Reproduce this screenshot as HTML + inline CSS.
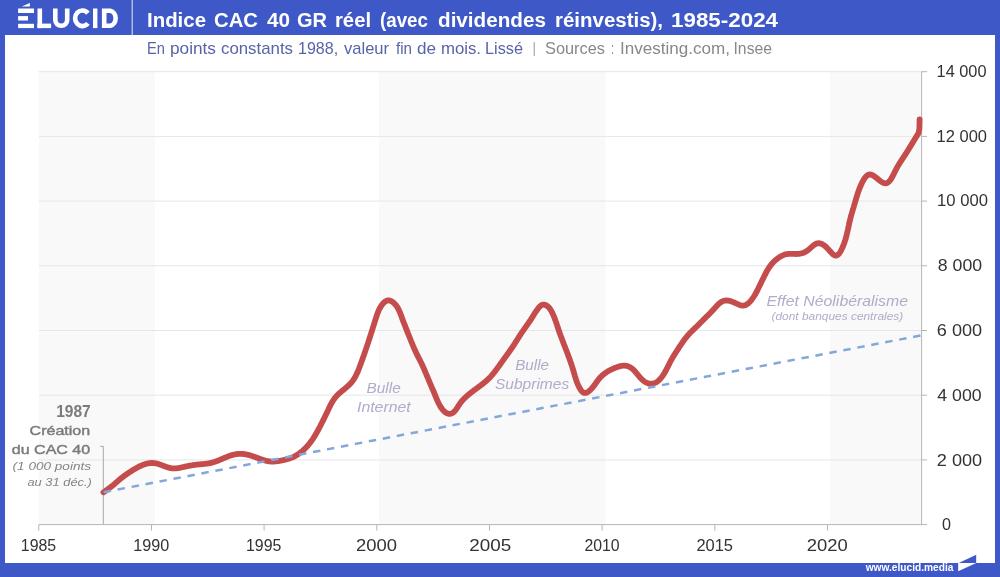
<!DOCTYPE html>
<html><head><meta charset="utf-8">
<style>
html,body{margin:0;padding:0;background:#fff;}
svg{display:block;will-change:transform;}
text{font-family:"Liberation Sans",sans-serif;}
.ax{font-size:16.4px;fill:#333;}
</style></head><body>
<svg width="1000" height="577" viewBox="0 0 1000 577">
<rect x="0" y="0" width="1000" height="577" fill="#3e59c7"/>
<rect x="5" y="35" width="990" height="528" fill="#fff"/>
<polygon points="958.2,563.3 976.2,554.8 976.2,563.3" fill="#3e59c7"/>
<polygon points="958.2,563 976.2,563 958.2,571.2" fill="#fff"/>
<line x1="132.2" y1="0" x2="132.2" y2="35" stroke="#e6e9f7" stroke-width="1"/>
<!-- logo -->
<g fill="#fff">
<rect x="18.1" y="8.5" width="15.9" height="4.5"/>
<rect x="18.1" y="16.1" width="9.9" height="4.4"/>
<rect x="18.1" y="23.8" width="15.9" height="4.3"/>
<polygon points="21.8,6.5 29.9,3.1 29.9,6.5"/>
<rect x="37.5" y="8.5" width="4.6" height="19.6"/>
<rect x="37.5" y="23.6" width="13.6" height="4.5"/>
<rect x="93.0" y="8.5" width="4.4" height="19.6"/>
</g>
<g fill="none" stroke="#fff" stroke-width="4.6">
<path d="M55.3,8.5 V19.8 A5.95,5.95 0 0 0 67.2,19.8 V8.5"/>
<path d="M87.9,13.2 A7.3,7.8 0 1 0 87.9,23.4"/>
<path d="M104.2,10.8 H110.3 A6.35,7.6 0 0 1 110.3,25.8 H104.2 Z"/>
</g>
<text x="20.80" y="551.2" font-size="15.6"  fill="#333" textLength="35.40" lengthAdjust="spacingAndGlyphs">1985</text>
<text x="133.20" y="551.2" font-size="15.6"  fill="#333" textLength="36.00" lengthAdjust="spacingAndGlyphs">1990</text>
<text x="246.00" y="551.2" font-size="15.6"  fill="#333" textLength="35.43" lengthAdjust="spacingAndGlyphs">1995</text>
<text x="356.00" y="551.2" font-size="15.6"  fill="#333" textLength="41.01" lengthAdjust="spacingAndGlyphs">2000</text>
<text x="469.20" y="551.2" font-size="15.6"  fill="#333" textLength="42.01" lengthAdjust="spacingAndGlyphs">2005</text>
<text x="584.40" y="551.2" font-size="15.6"  fill="#333" textLength="35.23" lengthAdjust="spacingAndGlyphs">2010</text>
<text x="696.40" y="551.2" font-size="15.6"  fill="#333" textLength="36.60" lengthAdjust="spacingAndGlyphs">2015</text>
<text x="806.80" y="551.2" font-size="15.6"  fill="#333" textLength="41.01" lengthAdjust="spacingAndGlyphs">2020</text>
<text x="936.60" y="76.9" font-size="15.9"  fill="#333" textLength="49.93" lengthAdjust="spacingAndGlyphs">14 000</text>
<text x="936.60" y="141.6" font-size="15.9"  fill="#333" textLength="50.41" lengthAdjust="spacingAndGlyphs">12 000</text>
<text x="937.10" y="206.4" font-size="15.9"  fill="#333" textLength="50.91" lengthAdjust="spacingAndGlyphs">10 000</text>
<text x="937.80" y="271.1" font-size="15.9"  fill="#333" textLength="44.30" lengthAdjust="spacingAndGlyphs">8 000</text>
<text x="936.80" y="335.8" font-size="15.9"  fill="#333" textLength="45.36" lengthAdjust="spacingAndGlyphs">6 000</text>
<text x="937.30" y="400.9" font-size="15.9"  fill="#333" textLength="44.33" lengthAdjust="spacingAndGlyphs">4 000</text>
<text x="936.80" y="465.6" font-size="15.9"  fill="#333" textLength="45.36" lengthAdjust="spacingAndGlyphs">2 000</text>
<text x="942.00" y="530.3" font-size="15.9"  fill="#333" textLength="9.00" lengthAdjust="spacingAndGlyphs">0</text>
<text x="147.00" y="26.6" font-size="20.9" font-weight="bold" fill="#fff" textLength="59.01" lengthAdjust="spacingAndGlyphs">Indice</text>
<text x="214.00" y="26.6" font-size="20.9" font-weight="bold" fill="#fff" textLength="44.00" lengthAdjust="spacingAndGlyphs">CAC</text>
<text x="267.00" y="26.6" font-size="20.9" font-weight="bold" fill="#fff" textLength="23.04" lengthAdjust="spacingAndGlyphs">40</text>
<text x="297.00" y="26.6" font-size="20.9" font-weight="bold" fill="#fff" textLength="30.04" lengthAdjust="spacingAndGlyphs">GR</text>
<text x="335.00" y="26.6" font-size="20.9" font-weight="bold" fill="#fff" textLength="36.00" lengthAdjust="spacingAndGlyphs">réel</text>
<text x="380.00" y="26.6" font-size="20.9" font-weight="bold" fill="#fff" textLength="48.00" lengthAdjust="spacingAndGlyphs">(avec</text>
<text x="438.00" y="26.6" font-size="20.9" font-weight="bold" fill="#fff" textLength="108.00" lengthAdjust="spacingAndGlyphs">dividendes</text>
<text x="555.00" y="26.6" font-size="20.9" font-weight="bold" fill="#fff" textLength="108.00" lengthAdjust="spacingAndGlyphs">réinvestis),</text>
<text x="671.00" y="26.6" font-size="20.9" font-weight="bold" fill="#fff" textLength="107.02" lengthAdjust="spacingAndGlyphs">1985-2024</text>
<text x="147.00" y="54" font-size="15.7"  fill="#5864a8" textLength="18.00" lengthAdjust="spacingAndGlyphs">En</text>
<text x="170.00" y="54" font-size="15.7"  fill="#5864a8" textLength="46.00" lengthAdjust="spacingAndGlyphs">points</text>
<text x="221.00" y="54" font-size="15.7"  fill="#5864a8" textLength="72.00" lengthAdjust="spacingAndGlyphs">constants</text>
<text x="298.00" y="54" font-size="15.7"  fill="#5864a8" textLength="40.10" lengthAdjust="spacingAndGlyphs">1988,</text>
<text x="344.00" y="54" font-size="15.7"  fill="#5864a8" textLength="45.08" lengthAdjust="spacingAndGlyphs">valeur</text>
<text x="396.00" y="54" font-size="15.7"  fill="#5864a8" textLength="16.06" lengthAdjust="spacingAndGlyphs">fin</text>
<text x="417.00" y="54" font-size="15.7"  fill="#5864a8" textLength="19.00" lengthAdjust="spacingAndGlyphs">de</text>
<text x="441.00" y="54" font-size="15.7"  fill="#5864a8" textLength="40.03" lengthAdjust="spacingAndGlyphs">mois.</text>
<text x="485.00" y="54" font-size="15.7"  fill="#5864a8" textLength="38.00" lengthAdjust="spacingAndGlyphs">Lissé</text>
<text x="545.00" y="54" font-size="15.7"  fill="#888" textLength="60.00" lengthAdjust="spacingAndGlyphs">Sources</text>
<text x="611.00" y="54" font-size="15.7"  fill="#888" textLength="3.00" lengthAdjust="spacingAndGlyphs">:</text>
<text x="620.00" y="54" font-size="15.7"  fill="#888" textLength="110.01" lengthAdjust="spacingAndGlyphs">Investing.com,</text>
<text x="733.50" y="54" font-size="15.7"  fill="#888" textLength="38.52" lengthAdjust="spacingAndGlyphs">Insee</text>
<rect x="533.6" y="42" width="1.3" height="14" fill="#b0b0b0"/>

<!-- chart -->
<rect x="38.8" y="71.6" width="116.2" height="453" fill="#f9f9f9"/>
<rect x="379.1" y="71.6" width="226.4" height="453" fill="#f9f9f9"/>
<rect x="830.1" y="71.6" width="91.5" height="453" fill="#f9f9f9"/>
<line x1="38.8" y1="459.9" x2="921.6" y2="459.9" stroke="#e6e6e6" stroke-width="1"/><line x1="921.6" y1="459.9" x2="927" y2="459.9" stroke="#b5b5b5" stroke-width="1"/><line x1="38.8" y1="395.2" x2="921.6" y2="395.2" stroke="#e6e6e6" stroke-width="1"/><line x1="921.6" y1="395.2" x2="927" y2="395.2" stroke="#b5b5b5" stroke-width="1"/><line x1="38.8" y1="330.5" x2="921.6" y2="330.5" stroke="#e6e6e6" stroke-width="1"/><line x1="921.6" y1="330.5" x2="927" y2="330.5" stroke="#b5b5b5" stroke-width="1"/><line x1="38.8" y1="265.8" x2="921.6" y2="265.8" stroke="#e6e6e6" stroke-width="1"/><line x1="921.6" y1="265.8" x2="927" y2="265.8" stroke="#b5b5b5" stroke-width="1"/><line x1="38.8" y1="201.1" x2="921.6" y2="201.1" stroke="#e6e6e6" stroke-width="1"/><line x1="921.6" y1="201.1" x2="927" y2="201.1" stroke="#b5b5b5" stroke-width="1"/><line x1="38.8" y1="136.4" x2="921.6" y2="136.4" stroke="#e6e6e6" stroke-width="1"/><line x1="921.6" y1="136.4" x2="927" y2="136.4" stroke="#b5b5b5" stroke-width="1"/><line x1="38.8" y1="71.7" x2="921.6" y2="71.7" stroke="#e6e6e6" stroke-width="1"/><line x1="921.6" y1="71.7" x2="927" y2="71.7" stroke="#b5b5b5" stroke-width="1"/>
<line x1="921.6" y1="71.6" x2="921.6" y2="524.6" stroke="#b5b5b5" stroke-width="1"/>
<line x1="38.8" y1="524.6" x2="927" y2="524.6" stroke="#b5b5b5" stroke-width="1"/>
<line x1="38.8" y1="524.6" x2="38.8" y2="530.5" stroke="#b5b5b5" stroke-width="1"/><line x1="151.5" y1="524.6" x2="151.5" y2="530.5" stroke="#b5b5b5" stroke-width="1"/><line x1="264.1" y1="524.6" x2="264.1" y2="530.5" stroke="#b5b5b5" stroke-width="1"/><line x1="376.8" y1="524.6" x2="376.8" y2="530.5" stroke="#b5b5b5" stroke-width="1"/><line x1="489.5" y1="524.6" x2="489.5" y2="530.5" stroke="#b5b5b5" stroke-width="1"/><line x1="602.1" y1="524.6" x2="602.1" y2="530.5" stroke="#b5b5b5" stroke-width="1"/><line x1="714.8" y1="524.6" x2="714.8" y2="530.5" stroke="#b5b5b5" stroke-width="1"/><line x1="827.5" y1="524.6" x2="827.5" y2="530.5" stroke="#b5b5b5" stroke-width="1"/>
<polyline points="100.2,446.4 103.3,446.4 103.3,524.6" fill="none" stroke="#a8a8a8" stroke-width="1"/>
<path d="M103.51,492.31L103.95,492.00L104.38,491.69L104.82,491.39L105.25,491.08L105.69,490.77L106.12,490.45L106.56,490.14L106.99,489.83L107.42,489.52L107.86,489.20L108.29,488.89L108.72,488.57L109.14,488.25L109.57,487.93L110.00,487.61L110.42,487.28L110.84,486.95L111.26,486.63L111.68,486.29L112.10,485.96L112.51,485.62L112.93,485.29L113.34,484.94L113.74,484.60L114.15,484.25L114.56,483.91L114.96,483.56L115.37,483.21L115.77,482.86L116.17,482.51L116.58,482.16L116.98,481.81L117.38,481.45L117.78,481.10L118.19,480.75L118.59,480.41L119.00,480.06L119.40,479.71L119.81,479.37L120.22,479.03L120.64,478.69L121.05,478.35L121.47,478.02L121.88,477.69L122.31,477.36L122.73,477.03L123.15,476.71L123.58,476.39L124.01,476.07L124.44,475.75L124.87,475.44L125.30,475.13L125.74,474.82L126.18,474.51L126.61,474.20L127.05,473.90L127.50,473.60L127.94,473.30L128.38,473.00L128.83,472.70L129.28,472.41L129.72,472.12L130.17,471.83L130.62,471.54L131.08,471.25L131.53,470.96L131.98,470.68L132.44,470.39L132.89,470.11L133.35,469.83L133.81,469.55L134.27,469.28L134.73,469.01L135.19,468.74L135.66,468.47L136.12,468.21L136.59,467.95L137.06,467.69L137.53,467.44L138.01,467.19L138.49,466.94L138.97,466.70L139.45,466.46L139.93,466.23L140.42,466.00L140.91,465.77L141.40,465.56L141.89,465.34L142.39,465.13L142.89,464.93L143.39,464.73L143.90,464.55L144.41,464.37L144.92,464.19L145.43,464.03L145.94,463.88L146.46,463.73L146.98,463.60L147.49,463.48L148.01,463.37L148.54,463.27L149.06,463.19L149.58,463.12L150.11,463.06L150.64,463.02L151.16,462.99L151.69,462.98L152.22,462.99L152.75,463.01L153.28,463.04L153.80,463.09L154.33,463.15L154.86,463.22L155.38,463.30L155.91,463.40L156.43,463.51L156.95,463.63L157.47,463.76L157.99,463.90L158.50,464.05L159.01,464.21L159.52,464.38L160.03,464.55L160.54,464.73L161.04,464.91L161.55,465.10L162.05,465.29L162.55,465.49L163.05,465.68L163.56,465.88L164.06,466.07L164.56,466.27L165.06,466.46L165.57,466.65L166.07,466.83L166.58,467.01L167.09,467.18L167.60,467.35L168.11,467.51L168.62,467.65L169.13,467.79L169.65,467.92L170.17,468.04L170.68,468.14L171.20,468.24L171.72,468.31L172.24,468.38L172.77,468.43L173.29,468.46L173.81,468.47L174.34,468.47L174.86,468.46L175.39,468.43L175.92,468.39L176.44,468.34L176.97,468.28L177.50,468.21L178.03,468.13L178.55,468.04L179.08,467.95L179.61,467.85L180.14,467.74L180.67,467.63L181.20,467.52L181.73,467.40L182.25,467.28L182.78,467.16L183.31,467.04L183.84,466.93L184.36,466.81L184.89,466.69L185.41,466.57L185.94,466.46L186.46,466.35L186.99,466.24L187.51,466.13L188.04,466.02L188.56,465.91L189.09,465.81L189.61,465.71L190.14,465.61L190.66,465.52L191.19,465.42L191.71,465.33L192.24,465.25L192.77,465.16L193.29,465.08L193.82,465.01L194.35,464.93L194.88,464.86L195.41,464.80L195.94,464.73L196.47,464.67L197.00,464.61L197.53,464.56L198.07,464.50L198.60,464.45L199.13,464.40L199.66,464.35L200.20,464.31L200.73,464.26L201.26,464.21L201.80,464.17L202.33,464.12L202.86,464.07L203.40,464.02L203.93,463.97L204.46,463.92L204.99,463.86L205.53,463.80L206.06,463.74L206.59,463.67L207.11,463.60L207.64,463.52L208.17,463.44L208.69,463.36L209.22,463.26L209.74,463.16L210.26,463.06L210.78,462.94L211.30,462.82L211.81,462.69L212.32,462.55L212.84,462.41L213.35,462.26L213.86,462.10L214.37,461.94L214.87,461.78L215.38,461.60L215.88,461.43L216.39,461.25L216.89,461.06L217.39,460.87L217.89,460.68L218.39,460.48L218.88,460.28L219.38,460.08L219.88,459.87L220.37,459.66L220.87,459.45L221.36,459.24L221.85,459.03L222.35,458.82L222.84,458.60L223.33,458.39L223.82,458.17L224.31,457.96L224.81,457.75L225.30,457.54L225.79,457.33L226.29,457.13L226.78,456.92L227.28,456.72L227.78,456.53L228.28,456.34L228.78,456.15L229.28,455.97L229.78,455.79L230.29,455.62L230.80,455.45L231.31,455.29L231.82,455.14L232.34,455.00L232.86,454.86L233.38,454.73L233.90,454.61L234.42,454.50L234.94,454.39L235.47,454.30L236.00,454.21L236.53,454.13L237.05,454.06L237.58,454.00L238.12,453.95L238.65,453.91L239.18,453.88L239.71,453.86L240.24,453.85L240.78,453.85L241.31,453.86L241.84,453.89L242.37,453.92L242.90,453.96L243.43,454.01L243.96,454.07L244.49,454.14L245.02,454.22L245.55,454.31L246.08,454.40L246.60,454.50L247.13,454.61L247.65,454.73L248.17,454.86L248.69,454.99L249.21,455.12L249.72,455.27L250.24,455.42L250.75,455.57L251.26,455.73L251.77,455.90L252.28,456.06L252.78,456.24L253.29,456.41L253.79,456.59L254.30,456.77L254.80,456.96L255.30,457.14L255.81,457.33L256.31,457.52L256.81,457.71L257.31,457.90L257.82,458.09L258.32,458.27L258.82,458.46L259.33,458.65L259.83,458.83L260.34,459.01L260.85,459.19L261.35,459.37L261.86,459.54L262.37,459.71L262.89,459.88L263.40,460.04L263.91,460.19L264.43,460.34L264.95,460.48L265.46,460.62L265.98,460.75L266.50,460.87L267.02,460.98L267.54,461.09L268.07,461.18L268.59,461.27L269.11,461.34L269.64,461.41L270.17,461.46L270.69,461.51L271.22,461.54L271.75,461.56L272.28,461.57L272.81,461.56L273.34,461.55L273.87,461.53L274.40,461.50L274.93,461.47L275.47,461.42L276.00,461.37L276.53,461.31L277.06,461.24L277.60,461.17L278.13,461.09L278.66,461.01L279.19,460.92L279.72,460.83L280.25,460.73L280.78,460.64L281.31,460.53L281.84,460.43L282.37,460.33L282.89,460.22L283.42,460.11L283.94,459.99L284.47,459.87L284.99,459.75L285.51,459.62L286.03,459.49L286.55,459.35L287.06,459.21L287.58,459.06L288.09,458.91L288.60,458.75L289.11,458.59L289.62,458.42L290.12,458.24L290.62,458.06L291.12,457.87L291.62,457.67L292.11,457.47L292.60,457.26L293.09,457.04L293.58,456.82L294.06,456.59L294.53,456.35L295.01,456.10L295.48,455.85L295.94,455.59L296.40,455.32L296.86,455.04L297.31,454.76L297.76,454.47L298.20,454.18L298.64,453.87L299.08,453.56L299.51,453.25L299.94,452.93L300.36,452.60L300.78,452.27L301.20,451.93L301.61,451.59L302.02,451.25L302.43,450.90L302.83,450.54L303.23,450.18L303.62,449.82L304.02,449.46L304.40,449.09L304.79,448.71L305.17,448.34L305.55,447.96L305.92,447.57L306.29,447.19L306.66,446.80L307.02,446.41L307.38,446.01L307.74,445.61L308.09,445.21L308.44,444.80L308.79,444.40L309.13,443.98L309.47,443.57L309.80,443.15L310.13,442.73L310.45,442.31L310.78,441.88L311.09,441.45L311.41,441.02L311.72,440.59L312.03,440.15L312.33,439.71L312.63,439.27L312.93,438.83L313.22,438.38L313.51,437.93L313.80,437.48L314.09,437.03L314.37,436.58L314.65,436.12L314.93,435.66L315.20,435.20L315.47,434.74L315.74,434.28L316.01,433.82L316.28,433.35L316.54,432.89L316.80,432.42L317.06,431.95L317.32,431.48L317.58,431.01L317.83,430.54L318.09,430.07L318.34,429.60L318.59,429.13L318.84,428.65L319.09,428.18L319.34,427.71L319.59,427.23L319.84,426.76L320.08,426.28L320.33,425.81L320.57,425.33L320.82,424.86L321.06,424.39L321.30,423.91L321.55,423.44L321.79,422.96L322.03,422.49L322.27,422.01L322.51,421.53L322.75,421.06L322.99,420.58L323.23,420.10L323.47,419.63L323.71,419.15L323.94,418.67L324.18,418.19L324.42,417.71L324.65,417.23L324.89,416.75L325.12,416.27L325.36,415.79L325.59,415.31L325.83,414.83L326.06,414.35L326.29,413.86L326.52,413.38L326.76,412.90L326.99,412.41L327.22,411.92L327.45,411.44L327.68,410.95L327.91,410.46L328.14,409.97L328.38,409.49L328.61,409.00L328.84,408.51L329.07,408.02L329.31,407.53L329.54,407.05L329.78,406.56L330.02,406.08L330.26,405.60L330.51,405.12L330.76,404.64L331.01,404.16L331.26,403.69L331.52,403.22L331.78,402.75L332.05,402.29L332.32,401.83L332.59,401.37L332.87,400.92L333.16,400.47L333.44,400.02L333.74,399.58L334.04,399.15L334.35,398.72L334.66,398.29L334.98,397.87L335.31,397.46L335.64,397.05L335.99,396.65L336.33,396.26L336.69,395.87L337.05,395.48L337.42,395.11L337.80,394.73L338.18,394.36L338.57,394.00L338.96,393.64L339.36,393.28L339.76,392.93L340.16,392.58L340.57,392.23L340.98,391.89L341.39,391.54L341.80,391.20L342.22,390.86L342.63,390.52L343.05,390.18L343.47,389.83L343.89,389.49L344.30,389.15L344.72,388.81L345.13,388.46L345.55,388.11L345.96,387.76L346.37,387.41L346.77,387.06L347.17,386.70L347.57,386.34L347.97,385.98L348.36,385.61L348.75,385.24L349.13,384.87L349.51,384.49L349.88,384.11L350.25,383.72L350.61,383.33L350.97,382.94L351.32,382.54L351.66,382.13L352.00,381.72L352.33,381.31L352.65,380.89L352.96,380.46L353.27,380.03L353.57,379.59L353.86,379.15L354.15,378.70L354.43,378.25L354.70,377.79L354.96,377.33L355.22,376.87L355.48,376.40L355.72,375.93L355.97,375.45L356.21,374.97L356.44,374.49L356.67,374.00L356.89,373.52L357.12,373.03L357.33,372.53L357.55,372.04L357.76,371.54L357.97,371.05L358.17,370.55L358.37,370.05L358.58,369.55L358.77,369.05L358.97,368.55L359.17,368.05L359.36,367.54L359.56,367.04L359.75,366.54L359.94,366.04L360.13,365.54L360.32,365.04L360.50,364.53L360.69,364.03L360.88,363.53L361.06,363.03L361.24,362.52L361.43,362.02L361.61,361.52L361.79,361.02L361.97,360.51L362.15,360.01L362.33,359.51L362.51,359.00L362.68,358.50L362.86,358.00L363.04,357.49L363.21,356.99L363.39,356.49L363.56,355.98L363.74,355.48L363.91,354.97L364.09,354.47L364.26,353.96L364.43,353.46L364.60,352.96L364.78,352.45L364.95,351.95L365.12,351.44L365.30,350.94L365.47,350.43L365.64,349.92L365.81,349.42L365.98,348.91L366.16,348.41L366.33,347.90L366.50,347.40L366.67,346.89L366.84,346.38L367.01,345.88L367.18,345.37L367.36,344.87L367.53,344.36L367.70,343.85L367.87,343.35L368.03,342.84L368.20,342.33L368.37,341.83L368.54,341.32L368.71,340.81L368.88,340.31L369.05,339.80L369.21,339.29L369.38,338.78L369.54,338.28L369.71,337.77L369.88,337.26L370.04,336.76L370.21,336.25L370.37,335.74L370.53,335.23L370.70,334.73L370.86,334.22L371.02,333.71L371.18,333.20L371.34,332.70L371.51,332.19L371.67,331.68L371.83,331.17L371.99,330.66L372.15,330.16L372.31,329.65L372.47,329.14L372.63,328.63L372.79,328.12L372.95,327.61L373.11,327.10L373.27,326.59L373.43,326.08L373.59,325.57L373.75,325.07L373.91,324.56L374.07,324.05L374.23,323.53L374.39,323.02L374.55,322.51L374.71,322.00L374.88,321.49L375.04,320.98L375.20,320.47L375.36,319.96L375.52,319.44L375.69,318.93L375.85,318.42L376.01,317.91L376.18,317.39L376.34,316.88L376.51,316.37L376.68,315.85L376.85,315.34L377.02,314.83L377.20,314.32L377.38,313.81L377.56,313.30L377.76,312.79L377.95,312.29L378.15,311.78L378.36,311.28L378.57,310.78L378.80,310.28L379.03,309.78L379.26,309.29L379.51,308.80L379.77,308.31L380.03,307.82L380.31,307.34L380.59,306.86L380.89,306.39L381.20,305.91L381.52,305.44L381.85,304.98L382.19,304.53L382.55,304.08L382.91,303.65L383.29,303.23L383.67,302.84L384.06,302.46L384.46,302.11L384.87,301.78L385.29,301.48L385.71,301.21L386.14,300.97L386.58,300.78L387.02,300.61L387.46,300.49L387.91,300.42L388.37,300.39L388.83,300.40L389.28,300.46L389.75,300.56L390.21,300.70L390.66,300.88L391.12,301.09L391.57,301.33L392.02,301.60L392.46,301.89L392.90,302.21L393.32,302.55L393.74,302.91L394.15,303.29L394.55,303.68L394.93,304.08L395.30,304.49L395.65,304.91L396.00,305.33L396.33,305.77L396.65,306.21L396.95,306.66L397.25,307.11L397.54,307.58L397.81,308.04L398.08,308.52L398.34,309.00L398.59,309.48L398.83,309.97L399.07,310.46L399.30,310.96L399.52,311.46L399.74,311.96L399.95,312.46L400.15,312.97L400.36,313.48L400.55,313.99L400.75,314.51L400.94,315.02L401.13,315.53L401.32,316.05L401.51,316.57L401.70,317.08L401.88,317.59L402.07,318.11L402.26,318.62L402.45,319.13L402.64,319.64L402.83,320.14L403.02,320.65L403.21,321.16L403.40,321.66L403.59,322.16L403.78,322.66L403.98,323.17L404.17,323.67L404.37,324.17L404.56,324.66L404.76,325.16L404.95,325.66L405.15,326.15L405.35,326.65L405.54,327.15L405.74,327.64L405.94,328.14L406.13,328.63L406.33,329.12L406.53,329.62L406.73,330.11L406.92,330.60L407.12,331.10L407.32,331.59L407.52,332.08L407.72,332.57L407.91,333.07L408.11,333.56L408.31,334.05L408.51,334.55L408.70,335.04L408.90,335.53L409.10,336.03L409.29,336.52L409.49,337.02L409.69,337.51L409.88,338.01L410.08,338.51L410.27,339.00L410.47,339.50L410.67,339.99L410.87,340.49L411.06,340.99L411.26,341.48L411.46,341.98L411.66,342.47L411.86,342.97L412.06,343.46L412.27,343.96L412.47,344.45L412.67,344.95L412.88,345.44L413.09,345.93L413.29,346.43L413.50,346.92L413.71,347.41L413.93,347.90L414.14,348.39L414.36,348.88L414.57,349.37L414.79,349.86L415.01,350.34L415.23,350.83L415.46,351.31L415.69,351.80L415.92,352.28L416.15,352.76L416.38,353.24L416.61,353.72L416.85,354.20L417.09,354.68L417.33,355.16L417.57,355.64L417.81,356.11L418.05,356.59L418.29,357.06L418.54,357.54L418.78,358.02L419.02,358.49L419.27,358.97L419.51,359.44L419.75,359.92L419.99,360.40L420.24,360.87L420.48,361.35L420.71,361.83L420.95,362.30L421.19,362.78L421.42,363.26L421.66,363.74L421.89,364.22L422.12,364.71L422.34,365.19L422.57,365.67L422.79,366.16L423.01,366.65L423.23,367.13L423.45,367.62L423.66,368.11L423.88,368.60L424.09,369.09L424.30,369.58L424.51,370.07L424.72,370.56L424.93,371.05L425.14,371.55L425.34,372.04L425.55,372.53L425.76,373.02L425.96,373.52L426.17,374.01L426.37,374.51L426.57,375.00L426.78,375.49L426.98,375.99L427.19,376.48L427.39,376.97L427.60,377.47L427.80,377.96L428.01,378.45L428.21,378.95L428.42,379.44L428.63,379.93L428.84,380.42L429.05,380.91L429.26,381.40L429.47,381.89L429.68,382.38L429.89,382.87L430.10,383.36L430.32,383.85L430.53,384.34L430.74,384.83L430.95,385.32L431.16,385.81L431.38,386.30L431.59,386.79L431.80,387.28L432.01,387.77L432.22,388.27L432.44,388.76L432.65,389.25L432.86,389.74L433.06,390.23L433.27,390.72L433.48,391.22L433.69,391.71L433.89,392.20L434.10,392.70L434.30,393.19L434.51,393.69L434.71,394.18L434.91,394.68L435.11,395.18L435.31,395.67L435.51,396.17L435.71,396.67L435.91,397.16L436.11,397.66L436.32,398.16L436.52,398.65L436.73,399.15L436.94,399.64L437.15,400.13L437.37,400.63L437.59,401.12L437.82,401.61L438.04,402.09L438.28,402.58L438.51,403.06L438.76,403.55L439.01,404.03L439.26,404.50L439.52,404.98L439.79,405.45L440.07,405.92L440.35,406.39L440.64,406.85L440.94,407.31L441.24,407.77L441.56,408.22L441.88,408.66L442.22,409.10L442.56,409.53L442.91,409.95L443.28,410.36L443.65,410.75L444.03,411.13L444.43,411.50L444.83,411.85L445.25,412.18L445.68,412.49L446.11,412.77L446.56,413.03L447.01,413.25L447.47,413.45L447.93,413.60L448.40,413.72L448.87,413.80L449.34,413.83L449.81,413.82L450.28,413.77L450.75,413.69L451.21,413.56L451.66,413.40L452.09,413.21L452.51,412.98L452.92,412.73L453.32,412.44L453.70,412.13L454.08,411.80L454.44,411.44L454.79,411.06L455.14,410.66L455.48,410.24L455.81,409.81L456.13,409.36L456.45,408.90L456.77,408.44L457.08,407.96L457.39,407.48L457.70,406.99L458.01,406.50L458.32,406.02L458.63,405.53L458.94,405.04L459.26,404.57L459.58,404.09L459.90,403.63L460.23,403.17L460.57,402.73L460.90,402.29L461.25,401.85L461.59,401.43L461.94,401.01L462.30,400.60L462.66,400.19L463.02,399.79L463.39,399.40L463.76,399.01L464.13,398.63L464.51,398.25L464.89,397.88L465.27,397.51L465.66,397.15L466.05,396.79L466.44,396.43L466.83,396.08L467.23,395.73L467.63,395.39L468.04,395.04L468.44,394.70L468.85,394.36L469.26,394.03L469.67,393.69L470.09,393.36L470.50,393.03L470.92,392.70L471.34,392.38L471.76,392.05L472.18,391.73L472.61,391.40L473.03,391.08L473.46,390.76L473.89,390.44L474.32,390.12L474.74,389.80L475.17,389.48L475.60,389.16L476.03,388.84L476.47,388.53L476.90,388.21L477.33,387.89L477.76,387.57L478.19,387.25L478.62,386.93L479.05,386.61L479.48,386.29L479.91,385.97L480.34,385.65L480.77,385.33L481.19,385.00L481.62,384.68L482.04,384.35L482.47,384.02L482.89,383.69L483.31,383.36L483.73,383.02L484.14,382.69L484.56,382.35L484.97,382.01L485.37,381.66L485.78,381.32L486.18,380.97L486.58,380.61L486.98,380.26L487.38,379.90L487.77,379.54L488.15,379.17L488.54,378.80L488.92,378.43L489.29,378.05L489.66,377.67L490.03,377.28L490.40,376.90L490.76,376.50L491.12,376.11L491.47,375.71L491.82,375.31L492.17,374.90L492.52,374.50L492.86,374.09L493.20,373.67L493.54,373.26L493.87,372.84L494.20,372.42L494.54,372.00L494.86,371.58L495.19,371.16L495.52,370.73L495.84,370.30L496.16,369.87L496.48,369.45L496.80,369.02L497.12,368.59L497.44,368.15L497.75,367.72L498.07,367.29L498.38,366.86L498.69,366.42L499.01,365.99L499.32,365.56L499.63,365.12L499.94,364.69L500.25,364.25L500.56,363.82L500.87,363.38L501.18,362.94L501.49,362.51L501.80,362.07L502.10,361.64L502.41,361.20L502.72,360.77L503.03,360.33L503.34,359.90L503.65,359.46L503.96,359.03L504.27,358.59L504.58,358.16L504.89,357.72L505.21,357.29L505.52,356.86L505.83,356.42L506.15,355.99L506.46,355.56L506.77,355.13L507.09,354.69L507.40,354.26L507.71,353.83L508.02,353.39L508.34,352.96L508.65,352.53L508.96,352.09L509.27,351.66L509.58,351.22L509.89,350.79L510.20,350.35L510.51,349.91L510.81,349.48L511.12,349.04L511.42,348.60L511.72,348.16L512.02,347.72L512.32,347.27L512.62,346.83L512.92,346.38L513.21,345.94L513.50,345.49L513.80,345.04L514.09,344.60L514.38,344.15L514.67,343.70L514.95,343.25L515.24,342.80L515.53,342.34L515.81,341.89L516.10,341.44L516.38,340.99L516.67,340.54L516.95,340.08L517.24,339.63L517.52,339.18L517.81,338.73L518.09,338.27L518.38,337.82L518.66,337.37L518.95,336.92L519.24,336.47L519.52,336.02L519.81,335.57L520.10,335.12L520.39,334.68L520.68,334.23L520.98,333.79L521.27,333.34L521.57,332.90L521.86,332.46L522.16,332.01L522.46,331.58L522.77,331.14L523.07,330.70L523.37,330.26L523.68,329.83L523.98,329.39L524.29,328.96L524.60,328.52L524.91,328.09L525.22,327.65L525.53,327.22L525.83,326.79L526.14,326.35L526.45,325.92L526.76,325.48L527.07,325.05L527.38,324.61L527.69,324.18L527.99,323.74L528.30,323.30L528.61,322.86L528.91,322.42L529.21,321.98L529.52,321.54L529.82,321.10L530.12,320.65L530.41,320.20L530.71,319.76L531.00,319.31L531.30,318.85L531.59,318.40L531.88,317.94L532.16,317.49L532.45,317.03L532.73,316.57L533.02,316.10L533.30,315.64L533.58,315.18L533.87,314.71L534.16,314.25L534.45,313.78L534.74,313.32L535.03,312.85L535.33,312.39L535.63,311.93L535.94,311.47L536.25,311.01L536.57,310.55L536.89,310.09L537.21,309.63L537.55,309.18L537.89,308.73L538.24,308.28L538.59,307.85L538.95,307.43L539.32,307.02L539.70,306.63L540.08,306.27L540.47,305.93L540.86,305.63L541.26,305.35L541.67,305.11L542.09,304.92L542.51,304.76L542.94,304.66L543.38,304.60L543.82,304.60L544.26,304.64L544.71,304.73L545.16,304.86L545.60,305.04L546.05,305.25L546.48,305.49L546.91,305.76L547.33,306.07L547.74,306.40L548.14,306.75L548.52,307.12L548.89,307.51L549.24,307.91L549.58,308.33L549.91,308.77L550.23,309.22L550.53,309.68L550.83,310.14L551.11,310.62L551.39,311.11L551.65,311.60L551.91,312.09L552.16,312.59L552.41,313.09L552.65,313.59L552.88,314.10L553.11,314.60L553.33,315.10L553.55,315.60L553.77,316.11L553.98,316.61L554.18,317.11L554.38,317.62L554.58,318.12L554.77,318.63L554.96,319.13L555.15,319.64L555.34,320.14L555.52,320.65L555.70,321.15L555.87,321.66L556.05,322.16L556.22,322.67L556.39,323.17L556.56,323.68L556.73,324.18L556.90,324.69L557.07,325.19L557.23,325.70L557.40,326.20L557.57,326.71L557.73,327.21L557.90,327.72L558.06,328.22L558.23,328.73L558.40,329.23L558.57,329.73L558.74,330.24L558.91,330.74L559.09,331.24L559.26,331.75L559.44,332.25L559.62,332.75L559.79,333.25L559.97,333.76L560.16,334.26L560.34,334.76L560.52,335.26L560.70,335.76L560.89,336.26L561.07,336.76L561.26,337.26L561.45,337.76L561.64,338.26L561.82,338.76L562.01,339.26L562.20,339.76L562.39,340.26L562.58,340.76L562.78,341.26L562.97,341.76L563.16,342.26L563.35,342.76L563.54,343.26L563.74,343.76L563.93,344.26L564.12,344.76L564.32,345.25L564.51,345.75L564.70,346.25L564.90,346.75L565.09,347.25L565.28,347.75L565.47,348.25L565.67,348.74L565.86,349.24L566.05,349.74L566.24,350.24L566.44,350.74L566.63,351.24L566.82,351.74L567.01,352.24L567.20,352.73L567.39,353.23L567.58,353.73L567.76,354.23L567.95,354.73L568.14,355.23L568.32,355.73L568.51,356.23L568.70,356.73L568.88,357.24L569.06,357.74L569.25,358.24L569.43,358.74L569.61,359.24L569.79,359.75L569.97,360.25L570.15,360.75L570.32,361.26L570.50,361.76L570.67,362.26L570.85,362.77L571.02,363.27L571.19,363.78L571.36,364.29L571.53,364.79L571.70,365.30L571.86,365.81L572.03,366.32L572.19,366.83L572.36,367.34L572.52,367.85L572.68,368.36L572.83,368.87L572.99,369.38L573.14,369.89L573.30,370.41L573.45,370.92L573.60,371.44L573.75,371.95L573.90,372.47L574.04,372.98L574.19,373.50L574.34,374.02L574.49,374.53L574.64,375.05L574.79,375.57L574.94,376.09L575.10,376.60L575.25,377.12L575.41,377.64L575.57,378.15L575.74,378.67L575.90,379.19L576.07,379.70L576.25,380.22L576.43,380.73L576.61,381.25L576.80,381.76L576.99,382.27L577.19,382.78L577.39,383.30L577.60,383.81L577.82,384.31L578.04,384.82L578.27,385.33L578.51,385.83L578.75,386.34L579.00,386.84L579.26,387.34L579.53,387.84L579.81,388.34L580.09,388.83L580.39,389.31L580.69,389.78L581.00,390.23L581.32,390.66L581.65,391.06L581.99,391.44L582.33,391.78L582.69,392.09L583.05,392.35L583.42,392.58L583.80,392.76L584.19,392.89L584.59,392.96L585.00,392.98L585.41,392.95L585.83,392.87L586.26,392.75L586.69,392.58L587.12,392.37L587.55,392.13L587.98,391.86L588.42,391.55L588.85,391.22L589.28,390.87L589.70,390.50L590.12,390.11L590.53,389.70L590.94,389.29L591.34,388.86L591.72,388.44L592.10,388.01L592.47,387.57L592.83,387.13L593.18,386.69L593.53,386.25L593.87,385.81L594.21,385.37L594.54,384.92L594.87,384.48L595.19,384.03L595.51,383.59L595.83,383.14L596.15,382.70L596.46,382.26L596.78,381.82L597.10,381.38L597.41,380.95L597.74,380.52L598.06,380.10L598.38,379.67L598.72,379.26L599.05,378.84L599.39,378.43L599.74,378.03L600.09,377.64L600.45,377.25L600.82,376.86L601.19,376.49L601.57,376.12L601.96,375.75L602.35,375.40L602.75,375.05L603.16,374.70L603.57,374.36L603.99,374.03L604.41,373.70L604.84,373.38L605.27,373.07L605.71,372.76L606.15,372.46L606.60,372.16L607.05,371.88L607.50,371.59L607.96,371.31L608.43,371.04L608.89,370.78L609.36,370.52L609.83,370.26L610.31,370.01L610.79,369.77L611.27,369.53L611.76,369.30L612.25,369.07L612.74,368.85L613.23,368.63L613.73,368.42L614.23,368.22L614.74,368.01L615.24,367.82L615.75,367.62L616.26,367.43L616.78,367.25L617.29,367.07L617.81,366.89L618.33,366.72L618.86,366.56L619.38,366.41L619.91,366.27L620.43,366.13L620.96,366.01L621.48,365.91L622.01,365.82L622.53,365.75L623.05,365.69L623.58,365.66L624.10,365.64L624.61,365.65L625.13,365.68L625.64,365.74L626.15,365.82L626.66,365.92L627.16,366.05L627.66,366.20L628.15,366.38L628.64,366.57L629.12,366.78L629.59,367.01L630.06,367.26L630.51,367.53L630.96,367.82L631.41,368.11L631.84,368.43L632.26,368.75L632.68,369.09L633.08,369.44L633.47,369.80L633.85,370.17L634.23,370.55L634.60,370.94L634.96,371.34L635.32,371.74L635.67,372.15L636.02,372.56L636.36,372.98L636.71,373.40L637.05,373.83L637.39,374.25L637.73,374.68L638.07,375.11L638.41,375.53L638.76,375.96L639.11,376.38L639.47,376.80L639.83,377.22L640.19,377.64L640.56,378.04L640.94,378.44L641.33,378.84L641.72,379.23L642.12,379.60L642.53,379.97L642.95,380.33L643.37,380.67L643.80,381.00L644.24,381.32L644.68,381.62L645.13,381.90L645.59,382.17L646.06,382.42L646.53,382.65L647.01,382.86L647.50,383.05L648.00,383.22L648.50,383.37L649.01,383.49L649.52,383.59L650.03,383.66L650.55,383.71L651.06,383.73L651.58,383.73L652.09,383.69L652.60,383.63L653.10,383.55L653.59,383.43L654.08,383.28L654.56,383.11L655.03,382.91L655.50,382.69L655.96,382.44L656.41,382.17L656.85,381.88L657.28,381.57L657.71,381.24L658.13,380.90L658.54,380.54L658.95,380.16L659.34,379.78L659.73,379.38L660.11,378.97L660.48,378.55L660.85,378.13L661.20,377.69L661.55,377.26L661.89,376.82L662.22,376.37L662.54,375.93L662.86,375.48L663.17,375.02L663.47,374.57L663.76,374.11L664.05,373.65L664.34,373.19L664.62,372.72L664.89,372.26L665.16,371.79L665.42,371.32L665.68,370.85L665.94,370.37L666.19,369.90L666.44,369.43L666.69,368.95L666.93,368.47L667.17,368.00L667.42,367.52L667.65,367.04L667.89,366.56L668.13,366.08L668.37,365.61L668.61,365.13L668.84,364.65L669.08,364.17L669.32,363.70L669.56,363.22L669.80,362.75L670.05,362.27L670.29,361.80L670.54,361.33L670.79,360.86L671.05,360.39L671.31,359.93L671.56,359.46L671.83,359.00L672.09,358.53L672.36,358.07L672.63,357.61L672.90,357.15L673.17,356.69L673.45,356.24L673.72,355.78L674.00,355.33L674.28,354.87L674.56,354.42L674.85,353.96L675.13,353.51L675.42,353.06L675.71,352.61L675.99,352.16L676.28,351.71L676.57,351.26L676.86,350.81L677.16,350.36L677.45,349.91L677.74,349.46L678.04,349.02L678.33,348.57L678.63,348.12L678.92,347.67L679.22,347.23L679.51,346.78L679.81,346.33L680.10,345.88L680.40,345.44L680.70,344.99L681.00,344.55L681.29,344.10L681.60,343.66L681.90,343.22L682.20,342.78L682.51,342.34L682.81,341.90L683.12,341.46L683.43,341.03L683.74,340.59L684.06,340.16L684.37,339.73L684.69,339.30L685.02,338.88L685.34,338.45L685.67,338.03L686.00,337.62L686.33,337.20L686.67,336.79L687.01,336.38L687.35,335.97L687.70,335.57L688.05,335.17L688.40,334.77L688.76,334.37L689.12,333.98L689.49,333.59L689.85,333.20L690.22,332.82L690.59,332.44L690.97,332.06L691.34,331.68L691.72,331.30L692.10,330.92L692.48,330.55L692.86,330.17L693.25,329.80L693.63,329.43L694.02,329.06L694.40,328.68L694.79,328.31L695.17,327.94L695.56,327.57L695.94,327.20L696.33,326.83L696.71,326.45L697.10,326.08L697.48,325.70L697.86,325.33L698.24,324.95L698.62,324.58L699.00,324.20L699.38,323.83L699.76,323.45L700.14,323.07L700.52,322.70L700.90,322.32L701.28,321.94L701.65,321.57L702.03,321.19L702.41,320.81L702.78,320.44L703.16,320.06L703.54,319.69L703.91,319.31L704.29,318.94L704.67,318.56L705.04,318.19L705.42,317.81L705.80,317.44L706.17,317.07L706.55,316.70L706.93,316.32L707.30,315.95L707.68,315.58L708.05,315.20L708.43,314.83L708.81,314.45L709.18,314.07L709.56,313.69L709.94,313.31L710.31,312.92L710.69,312.54L711.07,312.15L711.44,311.75L711.82,311.36L712.19,310.96L712.57,310.56L712.95,310.15L713.32,309.74L713.70,309.32L714.07,308.90L714.45,308.48L714.82,308.06L715.20,307.63L715.58,307.21L715.96,306.78L716.34,306.37L716.72,305.95L717.11,305.54L717.50,305.14L717.89,304.75L718.29,304.36L718.69,303.99L719.09,303.63L719.49,303.28L719.91,302.95L720.32,302.63L720.74,302.33L721.17,302.05L721.60,301.78L722.04,301.54L722.49,301.32L722.94,301.13L723.40,300.96L723.86,300.81L724.34,300.69L724.82,300.60L725.31,300.54L725.80,300.50L726.31,300.49L726.81,300.50L727.32,300.54L727.84,300.59L728.36,300.66L728.88,300.76L729.41,300.87L729.94,301.00L730.47,301.15L731.00,301.31L731.53,301.48L732.07,301.67L732.60,301.87L733.13,302.08L733.66,302.30L734.19,302.53L734.72,302.76L735.24,303.00L735.76,303.25L736.28,303.49L736.79,303.74L737.30,303.98L737.81,304.21L738.32,304.43L738.82,304.64L739.32,304.84L739.81,305.02L740.31,305.18L740.80,305.32L741.28,305.43L741.77,305.52L742.25,305.58L742.72,305.61L743.19,305.60L743.66,305.55L744.13,305.47L744.59,305.36L745.05,305.21L745.50,305.03L745.95,304.83L746.39,304.59L746.83,304.33L747.27,304.05L747.69,303.74L748.11,303.41L748.53,303.06L748.94,302.69L749.34,302.31L749.74,301.91L750.13,301.50L750.51,301.08L750.88,300.65L751.25,300.20L751.61,299.75L751.96,299.30L752.30,298.84L752.63,298.38L752.95,297.92L753.27,297.46L753.58,297.00L753.88,296.53L754.17,296.06L754.46,295.60L754.74,295.13L755.02,294.66L755.29,294.19L755.55,293.72L755.81,293.24L756.07,292.77L756.32,292.30L756.57,291.82L756.81,291.35L757.06,290.87L757.30,290.40L757.53,289.92L757.77,289.44L758.01,288.97L758.24,288.49L758.48,288.01L758.71,287.53L758.95,287.05L759.18,286.58L759.42,286.10L759.65,285.62L759.88,285.14L760.12,284.66L760.35,284.18L760.58,283.70L760.82,283.22L761.05,282.74L761.29,282.26L761.52,281.78L761.75,281.30L761.99,280.82L762.22,280.34L762.46,279.86L762.70,279.38L762.93,278.90L763.17,278.42L763.41,277.94L763.64,277.46L763.88,276.98L764.12,276.50L764.36,276.02L764.60,275.54L764.84,275.06L765.09,274.58L765.33,274.10L765.58,273.62L765.83,273.15L766.08,272.67L766.33,272.20L766.58,271.73L766.84,271.26L767.11,270.79L767.37,270.32L767.64,269.86L767.91,269.40L768.19,268.94L768.47,268.49L768.76,268.04L769.05,267.59L769.35,267.14L769.65,266.70L769.96,266.27L770.27,265.84L770.59,265.41L770.91,264.99L771.25,264.57L771.58,264.16L771.93,263.75L772.28,263.35L772.64,262.95L773.01,262.56L773.38,262.17L773.76,261.79L774.14,261.42L774.53,261.05L774.93,260.69L775.33,260.33L775.74,259.98L776.15,259.63L776.57,259.30L776.99,258.96L777.42,258.64L777.86,258.31L778.29,258.00L778.74,257.69L779.18,257.39L779.63,257.10L780.09,256.81L780.55,256.53L781.01,256.26L781.48,256.00L781.96,255.76L782.43,255.52L782.91,255.30L783.40,255.09L783.89,254.89L784.38,254.71L784.88,254.55L785.38,254.41L785.89,254.28L786.40,254.17L786.91,254.08L787.43,254.01L787.95,253.95L788.47,253.91L789.00,253.87L789.53,253.85L790.06,253.85L790.60,253.84L791.13,253.85L791.67,253.86L792.21,253.88L792.75,253.90L793.29,253.91L793.83,253.93L794.37,253.95L794.91,253.97L795.45,253.98L795.99,253.98L796.53,253.98L797.07,253.97L797.60,253.94L798.14,253.91L798.67,253.86L799.20,253.80L799.72,253.73L800.25,253.64L800.77,253.53L801.29,253.41L801.80,253.28L802.32,253.13L802.82,252.96L803.33,252.78L803.83,252.58L804.32,252.37L804.81,252.14L805.30,251.89L805.77,251.63L806.25,251.34L806.72,251.05L807.18,250.73L807.64,250.40L808.09,250.05L808.53,249.69L808.97,249.33L809.41,248.95L809.85,248.57L810.28,248.19L810.71,247.81L811.13,247.43L811.56,247.05L811.98,246.68L812.40,246.31L812.83,245.96L813.25,245.61L813.67,245.28L814.09,244.97L814.52,244.68L814.95,244.40L815.37,244.15L815.81,243.93L816.24,243.73L816.68,243.56L817.12,243.42L817.56,243.32L818.02,243.25L818.47,243.22L818.93,243.23L819.40,243.27L819.86,243.35L820.34,243.46L820.81,243.60L821.28,243.78L821.76,243.98L822.24,244.21L822.71,244.47L823.19,244.75L823.66,245.06L824.13,245.39L824.60,245.74L825.07,246.11L825.53,246.51L825.99,246.92L826.44,247.34L826.88,247.78L827.32,248.23L827.76,248.69L828.19,249.16L828.61,249.63L829.03,250.10L829.44,250.57L829.85,251.03L830.26,251.49L830.66,251.93L831.06,252.37L831.45,252.78L831.84,253.18L832.22,253.56L832.60,253.92L832.98,254.24L833.35,254.54L833.73,254.81L834.09,255.04L834.46,255.24L834.82,255.40L835.18,255.51L835.53,255.58L835.89,255.59L836.24,255.56L836.59,255.48L836.93,255.35L837.28,255.18L837.62,254.96L837.95,254.70L838.29,254.40L838.61,254.07L838.94,253.70L839.26,253.31L839.58,252.88L839.89,252.43L840.19,251.96L840.49,251.46L840.79,250.95L841.08,250.42L841.36,249.88L841.64,249.33L841.91,248.76L842.18,248.20L842.43,247.63L842.68,247.06L842.93,246.49L843.16,245.92L843.39,245.36L843.61,244.80L843.82,244.25L844.03,243.69L844.23,243.14L844.43,242.60L844.61,242.05L844.80,241.51L844.97,240.97L845.15,240.44L845.31,239.90L845.47,239.37L845.63,238.84L845.78,238.31L845.93,237.79L846.07,237.27L846.21,236.74L846.35,236.22L846.48,235.71L846.61,235.19L846.74,234.67L846.86,234.16L846.98,233.65L847.10,233.14L847.22,232.63L847.33,232.12L847.44,231.61L847.55,231.10L847.66,230.60L847.77,230.09L847.88,229.59L847.98,229.08L848.09,228.58L848.20,228.07L848.30,227.57L848.41,227.06L848.51,226.56L848.62,226.06L848.73,225.55L848.84,225.05L848.94,224.54L849.06,224.04L849.17,223.53L849.28,223.02L849.40,222.52L849.52,222.01L849.64,221.50L849.76,220.99L849.88,220.48L850.01,219.97L850.14,219.45L850.27,218.94L850.40,218.43L850.54,217.91L850.67,217.40L850.81,216.89L850.95,216.37L851.09,215.85L851.23,215.34L851.38,214.82L851.52,214.31L851.67,213.79L851.81,213.27L851.96,212.76L852.11,212.24L852.26,211.72L852.41,211.21L852.56,210.69L852.71,210.17L852.86,209.66L853.01,209.14L853.17,208.63L853.32,208.11L853.48,207.60L853.63,207.08L853.78,206.57L853.94,206.06L854.09,205.54L854.25,205.03L854.40,204.52L854.55,204.01L854.71,203.50L854.86,202.99L855.01,202.48L855.16,201.97L855.32,201.47L855.47,200.96L855.62,200.46L855.77,199.95L855.92,199.45L856.07,198.95L856.21,198.45L856.36,197.95L856.51,197.45L856.66,196.95L856.81,196.45L856.97,195.95L857.12,195.45L857.28,194.95L857.43,194.45L857.59,193.94L857.76,193.44L857.92,192.94L858.09,192.44L858.26,191.93L858.43,191.43L858.61,190.92L858.79,190.42L858.97,189.91L859.16,189.40L859.36,188.89L859.56,188.37L859.76,187.86L859.97,187.34L860.18,186.82L860.40,186.30L860.63,185.78L860.86,185.25L861.10,184.72L861.34,184.19L861.59,183.66L861.85,183.12L862.12,182.58L862.39,182.04L862.67,181.50L862.96,180.97L863.25,180.44L863.55,179.92L863.86,179.41L864.18,178.91L864.50,178.43L864.83,177.96L865.16,177.52L865.51,177.09L865.86,176.69L866.21,176.32L866.58,175.97L866.95,175.66L867.33,175.37L867.71,175.12L868.10,174.91L868.50,174.74L868.90,174.61L869.31,174.53L869.73,174.48L870.15,174.49L870.58,174.54L871.02,174.63L871.46,174.76L871.91,174.93L872.36,175.13L872.81,175.36L873.27,175.62L873.73,175.90L874.19,176.21L874.66,176.53L875.13,176.88L875.60,177.23L876.07,177.60L876.54,177.97L877.01,178.36L877.49,178.74L877.96,179.12L878.43,179.51L878.90,179.88L879.37,180.25L879.84,180.61L880.31,180.96L880.77,181.30L881.23,181.61L881.68,181.91L882.13,182.19L882.58,182.44L883.02,182.66L883.46,182.86L883.89,183.02L884.31,183.15L884.73,183.24L885.14,183.29L885.54,183.30L885.94,183.27L886.33,183.20L886.71,183.09L887.08,182.95L887.45,182.76L887.81,182.55L888.16,182.30L888.51,182.01L888.86,181.70L889.20,181.37L889.53,181.00L889.86,180.61L890.18,180.20L890.50,179.76L890.81,179.31L891.12,178.84L891.43,178.35L891.73,177.84L892.04,177.32L892.33,176.79L892.63,176.25L892.92,175.69L893.21,175.14L893.50,174.57L893.78,174.00L894.07,173.43L894.35,172.85L894.63,172.28L894.92,171.71L895.20,171.14L895.48,170.57L895.76,170.02L896.04,169.47L896.32,168.93L896.60,168.39L896.88,167.87L897.17,167.36L897.45,166.85L897.73,166.35L898.02,165.86L898.30,165.38L898.58,164.90L898.87,164.43L899.15,163.96L899.43,163.50L899.72,163.04L900.00,162.59L900.29,162.14L900.57,161.70L900.86,161.26L901.14,160.82L901.43,160.39L901.71,159.95L902.00,159.52L902.28,159.09L902.57,158.66L902.85,158.24L903.14,157.81L903.42,157.38L903.71,156.96L903.99,156.53L904.27,156.10L904.56,155.67L904.84,155.23L905.12,154.80L905.41,154.36L905.69,153.92L905.97,153.48L906.26,153.04L906.54,152.59L906.82,152.15L907.10,151.70L907.38,151.25L907.67,150.80L907.95,150.35L908.23,149.90L908.51,149.44L908.79,148.99L909.07,148.53L909.35,148.08L909.63,147.62L909.91,147.16L910.19,146.70L910.47,146.25L910.75,145.79L911.03,145.33L911.31,144.87L911.60,144.41L911.88,143.95L912.16,143.49L912.44,143.03L912.72,142.57L913.00,142.11L913.28,141.65L913.56,141.19L913.84,140.74L914.12,140.28L914.40,139.82L914.68,139.36L914.96,138.91L915.24,138.45L915.52,138.00L915.80,137.54L916.08,137.09L916.36,136.63L916.64,136.18L916.92,135.72L917.20,135.27L917.48,134.81L917.76,134.36L918.04,133.91L918.32,133.45L918.60,133.00L919.4,128.5L919.6,119.3" fill="none" stroke="#c44c4c" stroke-width="5.8" stroke-linecap="round" stroke-linejoin="round"/>
<line x1="103.3" y1="492.3" x2="921.6" y2="335.3" stroke="#84a7db" stroke-width="2.5" stroke-dasharray="7.45 6.76" stroke-dashoffset="-0.4"/>
<!-- annotations -->
<g fill="#7b7b7b">
<text x="56.2" y="416.9" font-size="16" font-weight="bold" textLength="34.5" lengthAdjust="spacingAndGlyphs">1987</text>
<text x="29.6" y="434.8" font-size="13.6" stroke="#7b7b7b" stroke-width="0.45" textLength="60.6" lengthAdjust="spacingAndGlyphs">Création</text>
<text x="11.8" y="453.5" font-size="13.6" stroke="#7b7b7b" stroke-width="0.45" textLength="78.4" lengthAdjust="spacingAndGlyphs">du CAC 40</text>
<text x="12.6" y="469.6" font-size="11.2" font-style="italic" fill="#858585" textLength="78.4" lengthAdjust="spacingAndGlyphs">(1 000 points</text>
<text x="27.4" y="486" font-size="11.2" font-style="italic" fill="#858585" textLength="64.5" lengthAdjust="spacingAndGlyphs">au 31 déc.)</text>
</g>
<g fill="#b2abc9" font-style="italic">
<text x="366.5" y="393" font-size="14" textLength="34.2" lengthAdjust="spacingAndGlyphs">Bulle</text>
<text x="357" y="411.6" font-size="14" textLength="53.7" lengthAdjust="spacingAndGlyphs">Internet</text>
<text x="515.2" y="370.3" font-size="14" textLength="33.8" lengthAdjust="spacingAndGlyphs">Bulle</text>
<text x="495" y="388.7" font-size="14" textLength="74.2" lengthAdjust="spacingAndGlyphs">Subprimes</text>
<text x="766.4" y="306.1" font-size="14" textLength="141.6" lengthAdjust="spacingAndGlyphs">Effet Néolibéralisme</text>
<text x="771.5" y="320.2" font-size="10.5" textLength="131.7" lengthAdjust="spacingAndGlyphs">(dont banques centrales)</text>
</g>
<text x="865.7" y="570.7" font-size="10" font-weight="bold" fill="#fff" textLength="87.7" lengthAdjust="spacingAndGlyphs">www.elucid.media</text>
</svg>
</body></html>
